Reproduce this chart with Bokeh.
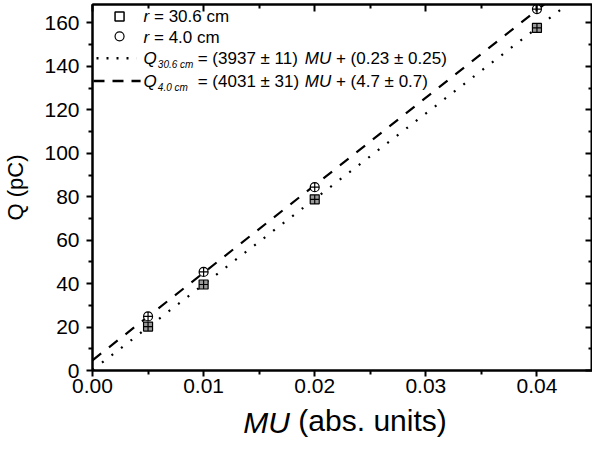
from bokeh.plotting import figure
from bokeh.models import Range1d, LinearAxis, Label, FixedTicker
from bokeh.embed import file_html
from bokeh.resources import INLINE

# ---- data ----
mu = [0.005, 0.01, 0.02, 0.04]
q_r306 = [20.2, 39.6, 78.8, 157.7]
q_r40 = [24.9, 45.4, 84.4, 166.4]
fit_x = [0.0, 0.045]
slope_306, icpt_306 = 3937, 0.23
slope_40, icpt_40 = 4031, 4.7
x_ticks = [0.0, 0.01, 0.02, 0.03, 0.04]
x_minor = [0.005, 0.015, 0.025, 0.035]
x_tick_labels = ["0.00", "0.01", "0.02", "0.03", "0.04"]
y_ticks = [0, 20, 40, 60, 80, 100, 120, 140, 160]
y_minor = [10, 30, 50, 70, 90, 110, 130, 150]
x_title_italic = "MU"
x_title_rest = "(abs. units)"
y_title = "Q (pC)"

FONT = "Liberation Sans"
X0, X1 = 0.0, 0.045
Y0, Y1 = 0.0, 168.5
NB = "\u00a0"

p = figure(width=592, height=441, output_backend="svg", toolbar_location=None,
           x_range=Range1d(X0, X1), y_range=Range1d(Y0, Y1),
           min_border_left=92, min_border_right=0, min_border_top=4,
           min_border_bottom=69)
p.grid.visible = False
p.outline_line_color = "black"
p.outline_line_width = 2
p.background_fill_color = "white"

p.xaxis.ticker = FixedTicker(ticks=x_ticks, minor_ticks=x_minor)
p.xaxis.major_label_overrides = {t: l for t, l in zip(x_ticks, x_tick_labels)}
p.yaxis.ticker = FixedTicker(ticks=y_ticks, minor_ticks=y_minor)
for ax in (p.xaxis[0], p.yaxis[0]):
    ax.axis_line_width = 2
    ax.major_tick_line_width = 2
    ax.minor_tick_line_width = 2
    ax.major_tick_out = 6
    ax.major_tick_in = 0
    ax.minor_tick_out = 4
    ax.minor_tick_in = 0
    ax.major_label_text_font = FONT
    ax.major_label_text_font_size = "21px"
    ax.major_label_text_color = "black"
    ax.axis_label_text_font = FONT
    ax.axis_label_text_font_style = "normal"
    ax.axis_label_text_color = "black"
p.yaxis.axis_label = y_title
p.yaxis.axis_label_text_font_size = "22px"
p.yaxis.axis_label_standoff = 13
p.xaxis.major_label_standoff = 2
p.yaxis.major_label_standoff = 7

# mirror axes with inward ticks
top = LinearAxis(ticker=FixedTicker(ticks=x_ticks, minor_ticks=x_minor))
right = LinearAxis(ticker=FixedTicker(ticks=y_ticks, minor_ticks=y_minor))
for ax in (top, right):
    ax.axis_line_width = 2
    ax.major_tick_line_width = 2
    ax.minor_tick_line_width = 2
    ax.major_tick_in = 7
    ax.major_tick_out = 0
    ax.minor_tick_in = 4
    ax.minor_tick_out = 0
    ax.major_label_text_font_size = "0px"
    ax.major_label_standoff = 0
p.add_layout(top, "above")
p.add_layout(right, "right")

# fit lines
fit_y306 = [slope_306 * x + icpt_306 for x in fit_x]
fit_y40 = [slope_40 * x + icpt_40 for x in fit_x]
p.line(fit_x, fit_y306, line_color="black", line_width=2.2, line_dash="2 10")
p.line(fit_x, fit_y40, line_color="black", line_width=2.2, line_dash="11 10")

# data points
p.scatter(mu, q_r306, marker="square_cross", size=9, fill_color="#9a9a9a",
          line_color="black", line_width=1.2)
p.scatter(mu, q_r40, marker="circle_cross", size=9, fill_color="white",
          line_color="black", line_width=1.2)

# ---- picture-pixel positions converted to data coordinates ----
FL, FR, FT, FB = 92.0, 591.0, 4.0, 372.0
def dx(px):
    return X0 + (px - FL) * (X1 - X0) / (FR - FL)
def dy(py):
    return Y0 + (FB - py) * (Y1 - Y0) / (FB - FT)

W = {' ': 278, NB: 278, '=': 584, '(': 333, ')': 333, '.': 278, '±': 584, '+': 584,
     'c': 500, 'm': 833, 'r': 333, 'M': 833, 'U': 722, 'Q': 778,
     'a': 556, 'b': 556, 's': 500, 'u': 556, 'n': 556, 'i': 222, 't': 278}
def tw(s, size):
    return sum(W.get(ch, 556) for ch in s) * size / 1000.0

def seg(px, py, s, size, style="normal"):
    s = s.replace(" ", NB)
    p.add_layout(Label(x=dx(px), y=dy(py), text=s, text_font=FONT,
                       text_font_size=f"{size}px", text_font_style=style,
                       text_color="black", text_align="left",
                       text_baseline="middle"))
    return px + tw(s, size)

# legend
FS = 17
p.scatter([dx(119)], [dy(16)], marker="square", size=9, fill_color="white",
          line_color="black", line_width=1.5)
p.scatter([dx(119)], [dy(36)], marker="circle", size=9, fill_color="white",
          line_color="black", line_width=1.2)
p.line([dx(96), dx(136)], [dy(58), dy(58)], line_color="black", line_width=2.5,
       line_dash="2 8")
p.line([dx(93), dx(140)], [dy(81), dy(81)], line_color="black", line_width=2.5,
       line_dash="11 8")

x = seg(143, 16, "r", FS, "italic")
seg(x, 16, " = 30.6 cm", FS)
x = seg(143, 37, "r", FS, "italic")
seg(x, 37, " = 4.0 cm", FS)

x = seg(143, 58, "Q", FS, "italic")
seg(x + 1, 64, "30.6 cm", 10, "italic")
x = seg(197, 58, "= (3937 ± 11) ", FS)
x = seg(x, 58, "MU", FS, "italic")
seg(x, 58, " + (0.23 ± 0.25)", FS)

x = seg(143, 81, "Q", FS, "italic")
seg(x + 1, 87, "4.0 cm", 10, "italic")
x = seg(197, 81, "= (4031 ± 31) ", FS)
x = seg(x, 81, "MU", FS, "italic")
seg(x, 81, " + (4.7 ± 0.7)", FS)

# ---- x-axis title: two label-only axes sharing one row ----
TS = 30
w1 = tw(x_title_italic, TS)
w2 = tw(x_title_rest, TS)
gap = 0.278 * TS
start = 344 - (w1 + gap + w2) / 2
c1 = dx(start + w1 / 2)
c2 = dx(start + w1 + gap + w2 / 2)

def title_axis(pos, text, style, standoff):
    ax = LinearAxis(ticker=FixedTicker(ticks=[pos], minor_ticks=[]),
                    major_label_overrides={pos: text})
    ax.axis_line_color = None
    ax.major_tick_line_color = None
    ax.minor_tick_line_color = None
    ax.major_tick_out = 0
    ax.major_tick_in = 0
    ax.minor_tick_out = 0
    ax.minor_tick_in = 0
    ax.major_label_text_font = FONT
    ax.major_label_text_font_size = f"{TS}px"
    ax.major_label_text_font_style = style
    ax.major_label_text_color = "black"
    ax.major_label_standoff = standoff
    p.add_layout(ax, "below")
    return ax

title_axis(c1, x_title_italic, "italic", 10)
title_axis(c2, x_title_rest, "normal", -38)

open("out.html", "w").write(file_html(p, INLINE))
